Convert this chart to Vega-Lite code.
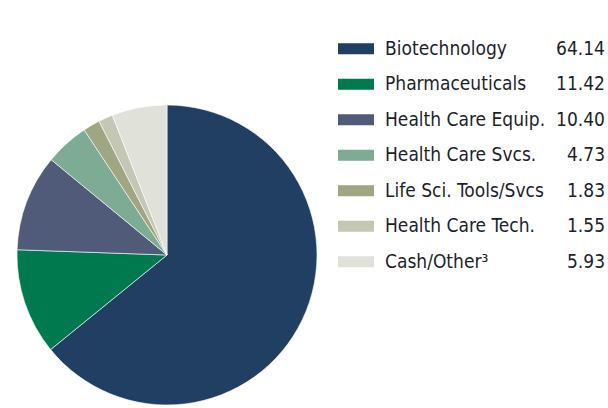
{
  "$schema": "https://vega.github.io/schema/vega-lite/v6.json",
  "padding": {"left": 15, "top": 31, "right": 4, "bottom": 0},
  "background": "white",
  "config": {"view": {"stroke": null}, "font": "DejaVu Sans Condensed, Roboto"},
  "data": {
    "values": [
      {"category": "Biotechnology", "value": 64.14, "order": 1},
      {"category": "Pharmaceuticals", "value": 11.42, "order": 2},
      {"category": "Health Care Equip.", "value": 10.40, "order": 3},
      {"category": "Health Care Svcs.", "value": 4.73, "order": 4},
      {"category": "Life Sci. Tools/Svcs", "value": 1.83, "order": 5},
      {"category": "Health Care Tech.", "value": 1.55, "order": 6},
      {"category": "Cash/Other³", "value": 5.93, "order": 7}
    ]
  },
  "spacing": 19,
  "hconcat": [
    {
      "spacing": 0,
      "vconcat": [
        {
          "width": 300,
          "height": 72,
          "data": {"values": []},
          "mark": {"type": "point"},
          "encoding": {}
        },
        {
          "width": 300,
          "height": 300,
          "mark": {"type": "arc", "outerRadius": 150, "stroke": "#ffffff", "strokeWidth": 0.6},
          "encoding": {
            "theta": {"field": "value", "type": "quantitative", "stack": true},
            "order": {"field": "order", "type": "quantitative"},
            "color": {
              "field": "category",
              "type": "nominal",
              "legend": null,
              "scale": {
                "domain": ["Biotechnology", "Pharmaceuticals", "Health Care Equip.", "Health Care Svcs.", "Life Sci. Tools/Svcs", "Health Care Tech.", "Cash/Other³"],
                "range": ["#213f63", "#00794e", "#4f5b79", "#7dab93", "#a0a582", "#c4c7b3", "#e0e1d9"]
              }
            }
          }
        }
      ]
    },
    {
      "width": 267,
      "height": 248.5,
      "encoding": {
        "y": {
          "field": "category",
          "type": "nominal",
          "sort": ["Biotechnology", "Pharmaceuticals", "Health Care Equip.", "Health Care Svcs.", "Life Sci. Tools/Svcs", "Health Care Tech.", "Cash/Other³"],
          "scale": {"paddingInner": 0, "paddingOuter": 0},
          "axis": null
        }
      },
      "layer": [
        {
          "mark": {"type": "bar", "height": 11},
          "encoding": {
            "x": {"value": 0},
            "x2": {"value": 36},
            "color": {
              "field": "category",
              "type": "nominal",
              "legend": null,
              "scale": {
                "domain": ["Biotechnology", "Pharmaceuticals", "Health Care Equip.", "Health Care Svcs.", "Life Sci. Tools/Svcs", "Health Care Tech.", "Cash/Other³"],
                "range": ["#213f63", "#00794e", "#4f5b79", "#7dab93", "#a0a582", "#c4c7b3", "#e0e1d9"]
              }
            }
          }
        },
        {
          "mark": {"type": "text", "align": "left", "baseline": "alphabetic", "dy": 6, "fontSize": 19, "color": "#1c1f2c"},
          "encoding": {
            "x": {"value": 47},
            "text": {"field": "category", "type": "nominal"}
          }
        },
        {
          "mark": {"type": "text", "align": "right", "baseline": "alphabetic", "dy": 6, "fontSize": 19, "color": "#1c1f2c"},
          "encoding": {
            "x": {"value": 267},
            "text": {"field": "value", "type": "quantitative", "format": ".2f"}
          }
        }
      ]
    }
  ]
}
